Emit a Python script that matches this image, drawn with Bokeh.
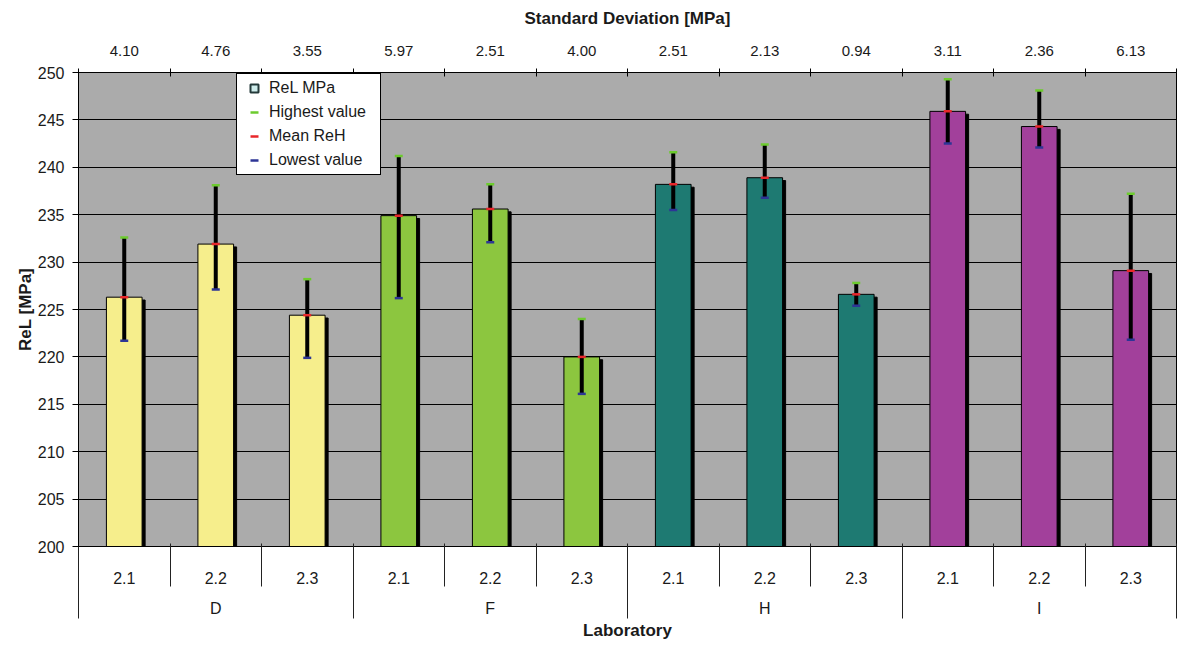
import numpy as np
from bokeh.plotting import figure
from bokeh.models import (Range1d, LinearAxis, FixedTicker, Legend, LegendItem,
                          ColumnDataSource, SingleIntervalTicker)
from bokeh.transform import dodge
from bokeh.embed import file_html
from bokeh.resources import INLINE

# ---------------- data ----------------
labs = ["D", "F", "H", "I"]
subs = ["2.1", "2.2", "2.3"]
mean_rel = [226.3, 231.9, 224.4, 234.9, 235.6, 220.0, 238.2, 238.9, 226.6, 245.9, 244.3, 229.1]
highest = [232.6, 238.1, 228.2, 241.2, 238.2, 224.0, 241.6, 242.4, 227.8, 249.3, 248.1, 237.2]
lowest = [221.7, 227.1, 219.9, 226.2, 232.1, 216.1, 235.5, 236.8, 225.4, 242.5, 242.1, 221.8]
std_dev = ["4.10", "4.76", "3.55", "5.97", "2.51", "4.00", "2.51", "2.13", "0.94", "3.11", "2.36", "6.13"]
lab_colors = ["#F6EE8C", "#8CC63F", "#1E7A72", "#A2409B"]

FONT = "Liberation Sans"

factors = [(lab, s) for lab in labs for s in subs]
bar_colors = [lab_colors[i] for i in range(len(labs)) for _ in subs]
n = len(factors)
centers = list(range(n))
bounds = [i - 0.5 for i in range(n + 1)]
k = len(subs)
grp_centers = [i * k + (k - 1) // 2 for i in range(len(labs))]
grp_bounds = [i * k - 0.5 for i in range(len(labs) + 1)]

src = ColumnDataSource(dict(x=centers, mean=mean_rel, high=highest, low=lowest,
                            shadow_top=[m - 0.3 for m in mean_rel], color=bar_colors))

p = figure(width=1178, height=642,
           x_range=Range1d(-0.5, n - 0.5),
           y_range=Range1d(200, 250), x_axis_location=None,
           output_backend="svg", toolbar_location=None,
           min_border_left=78, min_border_right=2, min_border_top=72, min_border_bottom=0)

p.background_fill_color = "#ABABAB"
p.border_fill_color = "white"
p.outline_line_color = "black"
p.outline_line_width = 1
for g in p.xgrid:
    g.visible = False
p.ygrid.grid_line_color = "black"
p.ygrid.grid_line_width = 1

# ---------------- bars ----------------
bw = 0.39
p.vbar(x=dodge("x", 0.033), top="shadow_top", bottom=200, width=bw,
       source=src, fill_color="black", line_color="black")
p.vbar(x="x", top="mean", bottom=200, width=bw, source=src,
       fill_color="color", line_color="black", line_width=1)

p.segment(x0="x", y0="low", x1="x", y1="high", source=src, line_color="black", line_width=4)
r_high = p.scatter(x="x", y="high", source=src, marker="dash", size=8,
                   line_color="#6CCB2E", line_width=2.5)
r_mean = p.scatter(x="x", y="mean", source=src, marker="dash", size=8,
                   line_color="#E8262A", line_width=2.5)
r_low = p.scatter(x="x", y="low", source=src, marker="dash", size=8,
                  line_color="#2D3596", line_width=2.5)
# legend key for the bar series (no visible point of its own)
key_src = ColumnDataSource(dict(x=np.array([np.nan]), y=np.array([np.nan])))
r_rel = p.scatter(x="x", y="y", source=key_src, marker="square", size=9,
                  fill_color="#CFEDEC", line_color="#243A3A", line_width=2)

# ---------------- y axis ----------------
yax = p.yaxis[0]
yax.ticker = SingleIntervalTicker(interval=5, num_minor_ticks=0)
yax.axis_label = "ReL [MPa]"
yax.axis_label_text_font = FONT
yax.axis_label_text_font_style = "bold"
yax.axis_label_text_font_size = "17px"
yax.axis_label_text_color = "#1a1a1a"
yax.axis_label_standoff = 0
yax.major_label_text_font = FONT
yax.major_label_text_font_size = "16px"
yax.major_label_text_color = "#1a1a1a"
yax.major_label_standoff = 8
yax.major_tick_out = 6
yax.major_tick_in = 0
yax.minor_tick_line_color = None
yax.axis_line_color = "black"
yax.major_tick_line_color = "black"

# ---------------- top axis: standard deviation ----------------
top = LinearAxis(ticker=FixedTicker(ticks=centers, minor_ticks=bounds),
                 major_label_overrides={i: std_dev[i] for i in range(n)},
                 axis_label="Standard Deviation [MPa]")
top.axis_label_text_font = FONT
top.axis_label_text_font_style = "bold"
top.axis_label_text_font_size = "17px"
top.axis_label_text_color = "#1a1a1a"
top.axis_label_standoff = 15
top.major_label_text_font = FONT
top.major_label_text_font_size = "15px"
top.major_label_text_color = "#1a1a1a"
top.major_label_standoff = 13
top.major_tick_line_color = None
top.major_tick_out = 0
top.major_tick_in = 0
top.minor_tick_line_color = "black"
top.minor_tick_in = 4
top.minor_tick_out = 4
top.axis_line_color = "black"
p.add_layout(top, "above")

# ---------------- bottom axes: sub-categories and laboratories ----------------
# b1: sub-category labels; its (minor) ticks are the long laboratory separators,
# drawn outward through a negative tick_in so they take no layout space
b1 = LinearAxis(ticker=FixedTicker(ticks=centers, minor_ticks=grp_bounds),
                major_label_overrides={i: factors[i][1] for i in range(n)})
b1.major_label_text_font = FONT
b1.major_label_text_font_size = "16px"
b1.major_label_text_color = "#1a1a1a"
b1.major_label_standoff = 25
b1.major_tick_line_color = None
b1.major_tick_out = 0
b1.major_tick_in = 0
b1.minor_tick_line_color = "#222222"
b1.minor_tick_in = -72
b1.minor_tick_out = 0
b1.axis_line_color = "black"
p.add_layout(b1, "below")

# b2: laboratory labels; its (minor) ticks reach up to the frame as short dividers
b2 = LinearAxis(ticker=FixedTicker(ticks=grp_centers, minor_ticks=bounds),
                major_label_overrides={grp_centers[i]: labs[i] for i in range(len(labs))},
                axis_label="Laboratory")
b2.major_label_text_font = FONT
b2.major_label_text_font_size = "16px"
b2.major_label_text_color = "#1a1a1a"
b2.major_label_standoff = 13
b2.major_tick_line_color = None
b2.major_tick_out = 0
b2.major_tick_in = 0
b2.minor_tick_line_color = "#222222"
b2.minor_tick_in = 43
b2.minor_tick_out = 0
b2.axis_line_color = None
b2.axis_label_text_font = FONT
b2.axis_label_text_font_style = "bold"
b2.axis_label_text_font_size = "17px"
b2.axis_label_text_color = "#1a1a1a"
b2.axis_label_standoff = 1
p.add_layout(b2, "below")

# ---------------- legend ----------------
legend = Legend(items=[LegendItem(label="ReL MPa", renderers=[r_rel]),
                       LegendItem(label="Highest value", renderers=[r_high]),
                       LegendItem(label="Mean ReH", renderers=[r_mean]),
                       LegendItem(label="Lowest value", renderers=[r_low])],
                location=(158, 371))
legend.label_text_font = FONT
legend.label_text_font_size = "16px"
legend.label_text_color = "#1a1a1a"
legend.label_height = 20
legend.label_width = 107
legend.glyph_height = 20
legend.glyph_width = 26
legend.label_standoff = 2
legend.spacing = 4
legend.padding = 4
legend.margin = 0
legend.border_line_color = "black"
legend.border_line_width = 1
legend.border_line_alpha = 1
legend.background_fill_color = "white"
legend.background_fill_alpha = 1
p.add_layout(legend, "center")

open("out.html", "w").write(file_html(p, INLINE))
